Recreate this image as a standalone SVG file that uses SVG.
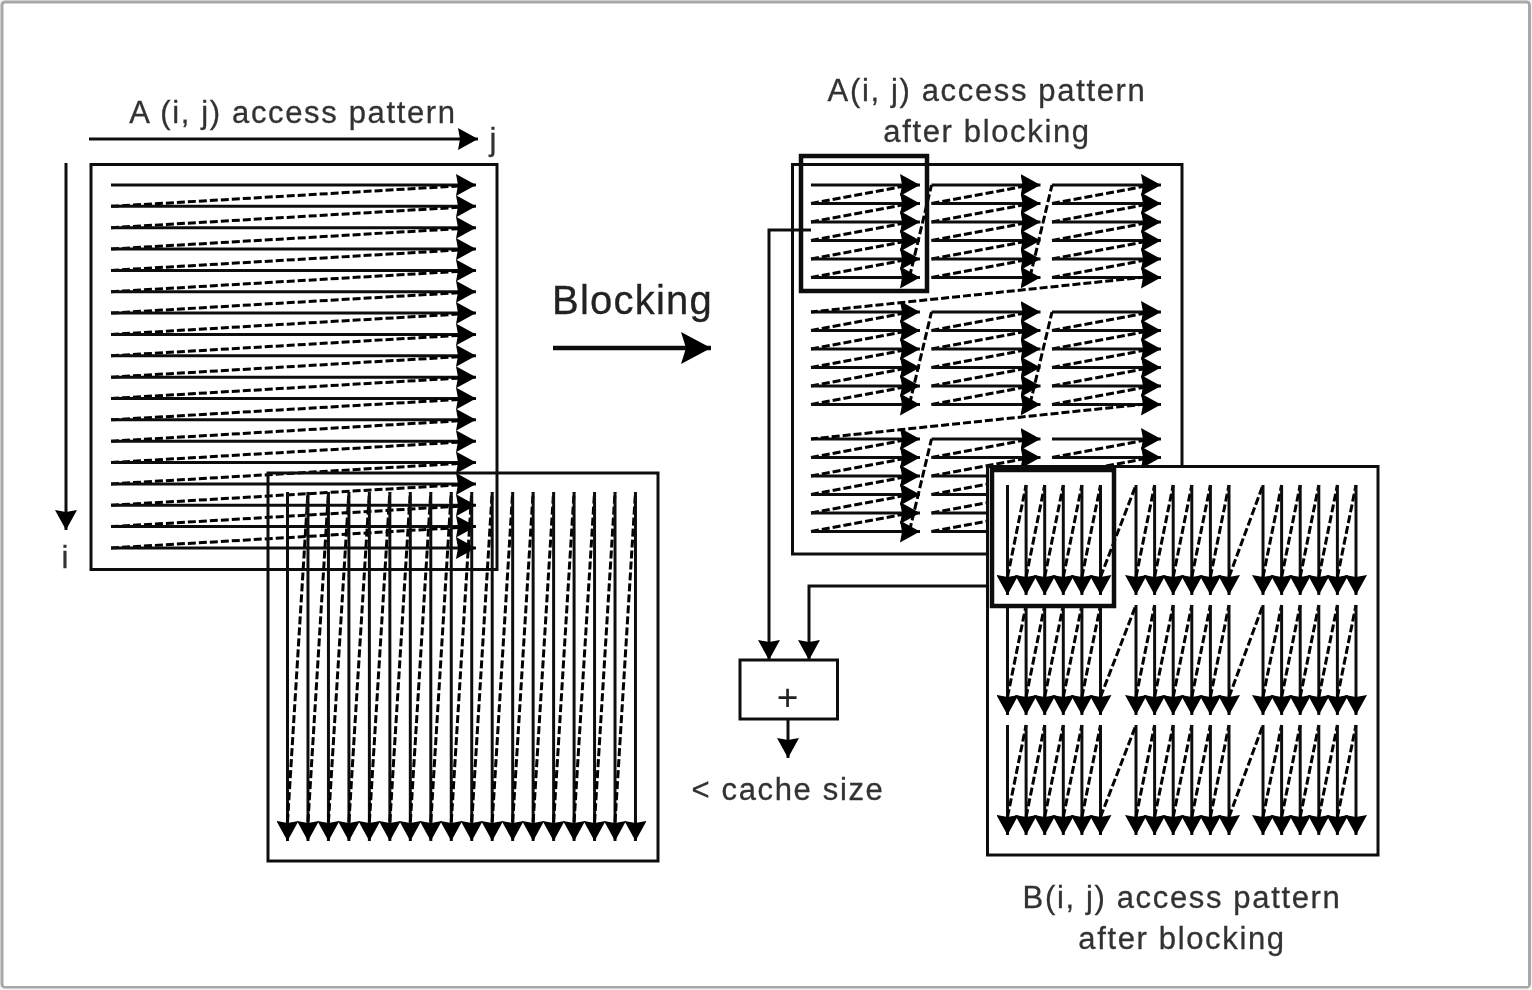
<svg xmlns="http://www.w3.org/2000/svg" xmlns:xlink="http://www.w3.org/1999/xlink" width="1532" height="990" viewBox="0 0 1532 990">
<style>
.t{font-family:"Liberation Sans",Arial,sans-serif;fill:#333;stroke:#333;stroke-width:.3px;font-size:31px;letter-spacing:1.65px;text-anchor:middle}
.box{fill:none;stroke:#111;stroke-width:3}
.opaque{fill:#fff;stroke:#111;stroke-width:3}
.thick{fill:none;stroke:#111;stroke-width:4.5}
.s{stroke:#111;stroke-width:3;fill:none;marker-end:url(#ah)}
.c{stroke:#111;stroke-width:3;fill:none;marker-end:url(#ah)}
.d{stroke:#000;stroke-width:3;stroke-dasharray:8 3;fill:none}
</style>
<defs>
<filter id="soft" x="0" y="0" width="100%" height="100%" filterUnits="objectBoundingBox"><feGaussianBlur stdDeviation="0.6"/></filter>
<marker id="ah" viewBox="0 0 20 22" refX="20" refY="11" markerWidth="20" markerHeight="22" markerUnits="userSpaceOnUse" orient="auto"><path d="M0,0 L20,11 L0,22 L2,11 Z" fill="#000"/></marker>
<marker id="ahL" viewBox="0 0 30 32" refX="30" refY="16" markerWidth="30" markerHeight="32" markerUnits="userSpaceOnUse" orient="auto"><path d="M0,0 L30,16 L0,32 L5,16 Z" fill="#000"/></marker>
<g id="lr"><line class="s" x1="111" y1="0" x2="476" y2="0"/></g>
<g id="ld"><line class="d" x1="111" y1="21.35" x2="458" y2="1"/><line class="s" x1="111" y1="21.35" x2="476" y2="21.35"/></g>
<g id="dc"><line class="d" x1="0" y1="330" x2="20.47" y2="0"/><line class="s" x1="20.47" y1="0" x2="20.47" y2="349"/></g>
<g id="hb">
<line class="s" x1="0" y1="0" x2="109" y2="0"/>
<line class="d" x1="0" y1="18.5" x2="94" y2="1"/><line class="s" x1="0" y1="18.5" x2="109" y2="18.5"/>
<line class="d" x1="0" y1="37" x2="94" y2="19.5"/><line class="s" x1="0" y1="37" x2="109" y2="37"/>
<line class="d" x1="0" y1="55.5" x2="94" y2="38"/><line class="s" x1="0" y1="55.5" x2="109" y2="55.5"/>
<line class="d" x1="0" y1="74" x2="94" y2="56.5"/><line class="s" x1="0" y1="74" x2="109" y2="74"/>
<line class="d" x1="0" y1="92.5" x2="94" y2="75"/><line class="s" x1="0" y1="92.5" x2="109" y2="92.5"/>
</g>
<g id="vb">
<line class="s" x1="0" y1="0" x2="0" y2="110"/>
<line class="d" x1="0" y1="92" x2="18.6" y2="0"/><line class="s" x1="18.6" y1="0" x2="18.6" y2="110"/>
<line class="d" x1="18.6" y1="92" x2="37.2" y2="0"/><line class="s" x1="37.2" y1="0" x2="37.2" y2="110"/>
<line class="d" x1="37.2" y1="92" x2="55.8" y2="0"/><line class="s" x1="55.8" y1="0" x2="55.8" y2="110"/>
<line class="d" x1="55.8" y1="92" x2="74.4" y2="0"/><line class="s" x1="74.4" y1="0" x2="74.4" y2="110"/>
<line class="d" x1="74.4" y1="92" x2="93" y2="0"/><line class="s" x1="93" y1="0" x2="93" y2="110"/>
</g>
</defs>
<rect width="1532" height="990" fill="#f4f4f4"/>
<rect x="2" y="2" width="1527.5" height="985" rx="3" fill="#fff" stroke="#a8a8a8" stroke-width="3"/>
<g filter="url(#soft)">
<rect x="4" y="4" width="1524" height="982" fill="#fff"/>
<g id="left-A">
<rect class="box" x="91" y="164.5" width="406" height="405"/>
<use href="#lr" y="185"/>
<use href="#ld" y="185"/><use href="#ld" y="206.35"/><use href="#ld" y="227.7"/><use href="#ld" y="249.05"/><use href="#ld" y="270.4"/><use href="#ld" y="291.75"/><use href="#ld" y="313.1"/><use href="#ld" y="334.45"/><use href="#ld" y="355.8"/><use href="#ld" y="377.15"/><use href="#ld" y="398.5"/><use href="#ld" y="419.85"/><use href="#ld" y="441.2"/><use href="#ld" y="462.55"/><use href="#ld" y="483.9"/><use href="#ld" y="505.25"/><use href="#ld" y="526.6"/>
</g>
<g id="left-B">
<rect class="box" x="268" y="473" width="390" height="388"/>
<g transform="translate(287.5,492)">
<line class="s" x1="0" y1="0" x2="0" y2="349"/>
<use href="#dc" x="0"/><use href="#dc" x="20.47"/><use href="#dc" x="40.94"/><use href="#dc" x="61.41"/><use href="#dc" x="81.88"/><use href="#dc" x="102.35"/><use href="#dc" x="122.82"/><use href="#dc" x="143.29"/><use href="#dc" x="163.76"/><use href="#dc" x="184.23"/><use href="#dc" x="204.7"/><use href="#dc" x="225.17"/><use href="#dc" x="245.64"/><use href="#dc" x="266.11"/><use href="#dc" x="286.58"/><use href="#dc" x="307.05"/><use href="#dc" x="327.52"/>
</g>
</g>
<g id="axes">
<line class="c" x1="89" y1="139" x2="478" y2="139"/>
<line class="c" x1="66" y1="163" x2="66" y2="530"/>
</g>
<text class="t" x="293" y="123">A (i, j) access pattern</text>
<text class="t" x="493" y="150" style="letter-spacing:0">j</text>
<text class="t" x="65" y="568" style="letter-spacing:0">i</text>

<g id="blocking">
<text class="t" x="632.5" y="314" style="font-size:40px;letter-spacing:1.2px;fill:#222;stroke:#222">Blocking</text>
<line stroke="#111" stroke-width="4.5" x1="553" y1="348" x2="711" y2="348" marker-end="url(#ahL)"/>
</g>

<g id="right-A">
<rect class="box" x="792.5" y="164.5" width="389.5" height="389.5"/>
<use href="#hb" x="811" y="185"/><use href="#hb" x="931.5" y="185"/><use href="#hb" x="1052" y="185"/>
<use href="#hb" x="811" y="312"/><use href="#hb" x="931.5" y="312"/><use href="#hb" x="1052" y="312"/>
<use href="#hb" x="811" y="439"/><use href="#hb" x="931.5" y="439"/><use href="#hb" x="1052" y="439"/>
<g id="right-A-links">
<line class="d" x1="909.5" y1="277" x2="931.5" y2="185"/><line class="d" x1="1030" y1="277" x2="1052" y2="185"/>
<line class="d" x1="909.5" y1="404" x2="931.5" y2="312"/><line class="d" x1="1030" y1="404" x2="1052" y2="312"/>
<line class="d" x1="909.5" y1="531" x2="931.5" y2="439"/>
<line class="d" x1="1146" y1="277" x2="811" y2="312"/>
<line class="d" x1="1146" y1="404" x2="811" y2="439"/>
</g>
<rect class="thick" id="A-window" x="801" y="156" width="126" height="135"/>
</g>
<text class="t" x="987" y="101">A(i, j) access pattern</text>
<text class="t" x="987" y="142">after blocking</text>

<g id="connectors">
<polyline class="c" points="811,230 769,230 769,660"/>
<polyline class="c" points="992,586 809,586 809,660"/>
<line class="c" x1="788" y1="719" x2="788" y2="758"/>
</g>
<g id="adder">
<rect class="box" x="740" y="660" width="97.5" height="59"/>
<text class="t" x="787.5" y="710" style="font-size:37px;letter-spacing:0;fill:#222;stroke:none">+</text>
</g>
<text class="t" x="788" y="800">&lt; cache size</text>

<g id="right-B">
<rect class="opaque" x="987.5" y="466.5" width="390.5" height="388.5"/>
<use href="#vb" x="1007.5" y="485"/><use href="#vb" x="1136" y="485"/><use href="#vb" x="1263" y="485"/>
<use href="#vb" x="1007.5" y="605"/><use href="#vb" x="1136" y="605"/><use href="#vb" x="1263" y="605"/>
<use href="#vb" x="1007.5" y="725"/><use href="#vb" x="1136" y="725"/><use href="#vb" x="1263" y="725"/>
<g id="right-B-links">
<line class="d" x1="1100.5" y1="577" x2="1136" y2="485"/><line class="d" x1="1229" y1="577" x2="1263" y2="485"/>
<line class="d" x1="1100.5" y1="697" x2="1136" y2="605"/><line class="d" x1="1229" y1="697" x2="1263" y2="605"/>
<line class="d" x1="1100.5" y1="817" x2="1136" y2="725"/><line class="d" x1="1229" y1="817" x2="1263" y2="725"/>
</g>
<rect class="thick" id="B-window" x="992" y="470" width="122" height="136"/>
</g>
<text class="t" x="1182" y="908">B(i, j) access pattern</text>
<text class="t" x="1182" y="949">after blocking</text>
</g>
</svg>
